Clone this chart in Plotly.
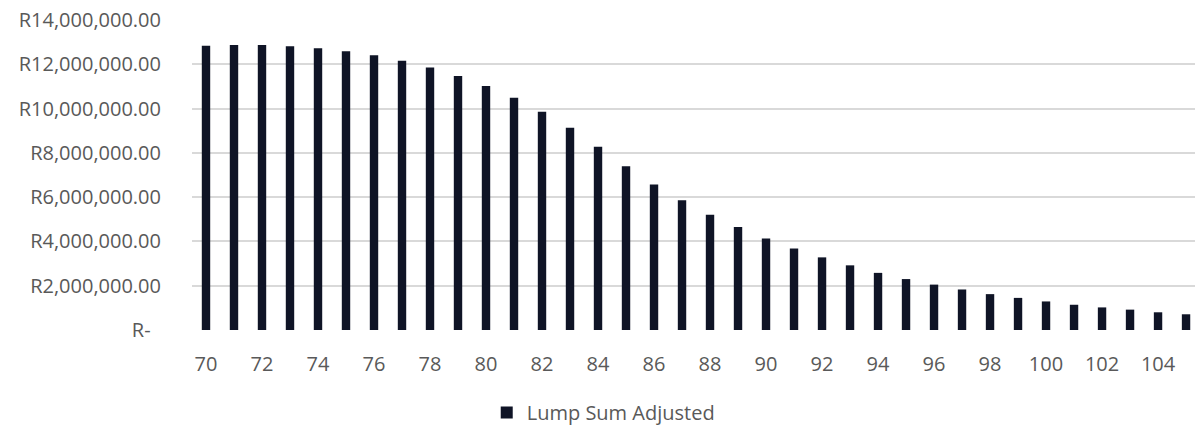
import plotly.graph_objects as go

ages = list(range(70, 106))
lump_sum_adjusted = [
    12840000, 12870000, 12870000, 12810000, 12720000, 12590000, 12410000, 12160000,
    11850000, 11470000, 11020000, 10490000, 9860000, 9130000, 8280000, 7390000,
    6570000, 5860000, 5210000, 4650000, 4130000, 3680000, 3280000, 2920000,
    2580000, 2300000, 2050000, 1830000, 1620000, 1450000, 1290000, 1140000,
    1020000, 920000, 800000, 710000,
]
series_name = "Lump Sum Adjusted"
y_tick_values = [0, 2000000, 4000000, 6000000, 8000000, 10000000, 12000000, 14000000]
y_tick_labels = ["R-\u00a0\u00a0" if v == 0 else "R{:,.2f}".format(v) for v in y_tick_values]
x_tick_values = list(range(70, 106, 2))

BAR_COLOR = "#0f1426"
TEXT_COLOR = "#595959"
GRID_COLOR = "#d9d9d9"
FONT = "Open Sans"

fig = go.Figure(
    go.Bar(
        x=ages,
        y=lump_sum_adjusted,
        name=series_name,
        marker=dict(color=BAR_COLOR, line=dict(width=0)),
        showlegend=True,
    )
)

fig.update_layout(
    width=1195,
    height=432,
    margin=dict(l=192, r=0, t=20, b=98),
    paper_bgcolor="white",
    plot_bgcolor="white",
    bargap=0.7,
    font=dict(family=FONT, size=20, color=TEXT_COLOR),
    showlegend=True,
    legend=dict(
        orientation="h",
        x=0.41,
        xanchor="center",
        y=-0.267,
        yanchor="middle",
        font=dict(family=FONT, size=20, color=TEXT_COLOR),
        bgcolor="rgba(0,0,0,0)",
    ),
)

fig.update_xaxes(
    range=[69.5, 105.32],
    tickmode="array",
    tickvals=x_tick_values,
    ticktext=[str(v) for v in x_tick_values],
    showgrid=False,
    zeroline=False,
    showline=False,
    ticks="outside",
    ticklen=16,
    tickcolor="rgba(0,0,0,0)",
    tickfont=dict(family=FONT, size=20, color=TEXT_COLOR),
)

fig.update_yaxes(
    range=[0, 14000000],
    tickmode="array",
    tickvals=y_tick_values,
    ticktext=y_tick_labels,
    showgrid=True,
    gridcolor=GRID_COLOR,
    gridwidth=1.5,
    zeroline=False,
    showline=False,
    ticks="outside",
    ticklen=26,
    tickcolor="rgba(0,0,0,0)",
    tickfont=dict(family=FONT, size=20, color=TEXT_COLOR),
)

fig.write_html(
    "out.html",
    config={"displayModeBar": False},
    post_script="document.body.style.margin='0';document.body.style.overflow='hidden';",
)
